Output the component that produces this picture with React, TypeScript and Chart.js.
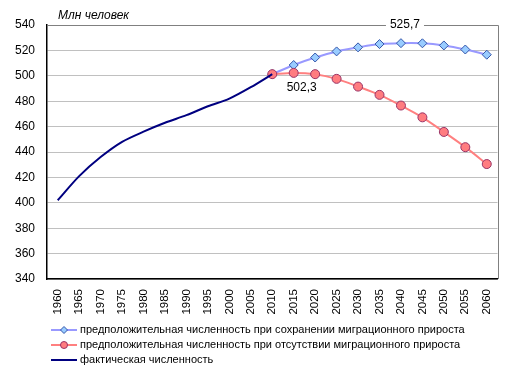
import React, { useEffect, useRef } from "react";
import { Chart, registerables } from "chart.js";

Chart.register(...registerables);

const years = ["1960","1965","1970","1975","1980","1985","1990","1995","2000","2005","2010","2015","2020","2025","2030","2035","2040","2045","2050","2055","2060"];
const actual = [402, 421, 436, 448, 456, 463, 469, 476, 482, 491, 501.3, null, null, null, null, null, null, null, null, null, null];
const withMigration = [null, null, null, null, null, null, null, null, null, null, 501.3, 508.5, 514.4, 519.2, 522.4, 525, 525.7, 525.6, 523.9, 520.7, 516.6];
const noMigration = [null, null, null, null, null, null, null, null, null, null, 501.3, 502.3, 501.3, 497.6, 491.5, 485, 476.6, 467.3, 455.8, 443.8, 430.5];
const legendLabels = [
  "предположительная численность при сохранении миграционного прироста",
  "предположительная численность при отсутствии миграционного прироста",
  "фактическая численность",
];
const yTitle = "Млн человек";

const FONT = "'Liberation Sans', Arial, sans-serif";

const BLUE_LINE = "#9999FF";
const BLUE_FILL = "#99CCFF";
const BLUE_BORDER = "#3355AA";
const RED_LINE = "#FF8080";
const RED_FILL = "#FF7C80";
const RED_BORDER = "#993366";
const NAVY = "#000080";

const extrasPlugin = {
  id: "extras",
  afterDraw(chart: any) {
    const ctx = chart.ctx;
    const { left, right, top, bottom } = chart.chartArea;
    const xs = chart.scales.x;
    const ys = chart.scales.y;
    ctx.save();
    // top & right border (gray)
    ctx.strokeStyle = "#808080";
    ctx.lineWidth = 1;
    ctx.beginPath();
    ctx.moveTo(left, Math.round(top) + 0.5);
    ctx.lineTo(Math.round(right) + 0.5, Math.round(top) + 0.5);
    ctx.lineTo(Math.round(right) + 0.5, bottom);
    ctx.stroke();

    // y title
    ctx.fillStyle = "#000";
    ctx.font = "italic 12px " + FONT;
    ctx.textAlign = "left";
    ctx.textBaseline = "middle";
    ctx.fillText(yTitle, 58, 16);

    // data labels
    ctx.font = "12px " + FONT;
    ctx.textAlign = "center";
    const iMin = noMigration.indexOf(502.3);
    const px1 = xs.getPixelForValue(iMin);
    const py1 = ys.getPixelForValue(noMigration[iMin] as number);
    ctx.fillText("502,3", px1 + 8, py1 + 15);

    const iMax = withMigration.indexOf(525.7);
    const px2 = xs.getPixelForValue(iMax);
    const py2 = ys.getPixelForValue(withMigration[iMax] as number);
    const txt = "525,7";
    const w = ctx.measureText(txt).width;
    ctx.fillStyle = "#fff";
    ctx.fillRect(px2 + 4 - w / 2 - 4, py2 - 18 - 7, w + 8, 14);
    ctx.fillStyle = "#000";
    ctx.fillText(txt, px2 + 4, py2 - 18);

    // legend
    const rows = [330, 345, 360];
    const styles = [
      { line: BLUE_LINE, fill: BLUE_FILL, border: BLUE_BORDER, marker: "diamond" },
      { line: RED_LINE, fill: RED_FILL, border: RED_BORDER, marker: "circle" },
      { line: NAVY, fill: null, border: null, marker: "none" },
    ];
    ctx.font = "11px " + FONT;
    ctx.textAlign = "left";
    ctx.textBaseline = "middle";
    rows.forEach((y, i) => {
      const s = styles[i];
      ctx.strokeStyle = s.line;
      ctx.lineWidth = 2;
      ctx.beginPath();
      ctx.moveTo(51, y);
      ctx.lineTo(77, y);
      ctx.stroke();
      if (s.marker === "diamond") {
        ctx.beginPath();
        ctx.moveTo(64, y - 3.5);
        ctx.lineTo(67.5, y);
        ctx.lineTo(64, y + 3.5);
        ctx.lineTo(60.5, y);
        ctx.closePath();
        ctx.fillStyle = s.fill as string;
        ctx.fill();
        ctx.lineWidth = 1;
        ctx.strokeStyle = s.border as string;
        ctx.stroke();
      } else if (s.marker === "circle") {
        ctx.beginPath();
        ctx.arc(64, y, 3.5, 0, Math.PI * 2);
        ctx.fillStyle = s.fill as string;
        ctx.fill();
        ctx.lineWidth = 1;
        ctx.strokeStyle = s.border as string;
        ctx.stroke();
      }
      ctx.fillStyle = "#000";
      ctx.fillText(legendLabels[i], 80, y);
    });
    ctx.restore();
  },
};

export default function App() {
  const ref = useRef<HTMLCanvasElement | null>(null);
  useEffect(() => {
    if (!ref.current) return;
    const chart = new Chart(ref.current, {
      type: "line",
      data: {
        labels: years,
        datasets: [
          {
            label: legendLabels[1],
            data: noMigration,
            borderColor: RED_LINE,
            backgroundColor: RED_FILL,
            pointBackgroundColor: RED_FILL,
            pointBorderColor: RED_BORDER,
            pointBorderWidth: 1,
            pointRadius: 4.5,
            pointStyle: "circle",
            borderWidth: 2,
            tension: 0.3,
            order: 1,
          },
          {
            label: legendLabels[0],
            data: withMigration,
            borderColor: BLUE_LINE,
            backgroundColor: BLUE_FILL,
            pointBackgroundColor: BLUE_FILL,
            pointBorderColor: BLUE_BORDER,
            pointBorderWidth: 1,
            pointRadius: 4.5,
            pointStyle: "rectRot",
            borderWidth: 2,
            tension: 0.3,
            order: 2,
          },
          {
            label: legendLabels[2],
            data: actual,
            borderColor: NAVY,
            backgroundColor: NAVY,
            pointRadius: 0,
            borderWidth: 2,
            tension: 0.3,
            order: 0,
          },
        ],
      },
      options: {
        responsive: false,
        animation: false,
        events: [],
        layout: { padding: { left: 0, top: 25, right: 15.5, bottom: 0 } },
        plugins: {
          legend: { display: false },
          tooltip: { enabled: false },
          title: { display: false },
        },
        scales: {
          x: {
            type: "category",
            offset: true,
            grid: { display: false, drawTicks: false },
            border: { display: true, color: "#000", width: 1.5 },
            ticks: {
              autoSkip: false,
              maxRotation: 90,
              minRotation: 90,
              padding: 10,
              color: "#000",
              font: { family: FONT, size: 11.5 },
            },
            afterFit: (s: any) => { s.height = 96; },
          },
          y: {
            min: 340,
            max: 540,
            grid: { color: "#C0C0C0", drawTicks: false },
            border: { display: true, color: "#000", width: 1.5 },
            ticks: {
              stepSize: 20,
              padding: 12,
              color: "#000",
              font: { family: FONT, size: 12 },
            },
            afterFit: (s: any) => { s.width = 47; },
          },
        },
      },
      plugins: [extrasPlugin],
    });
    return () => chart.destroy();
  }, []);
  return (
    <div style={{ position: "fixed", left: 0, top: 0, width: 513, height: 375, background: "#fff" }}>
      <canvas ref={ref} width={513} height={375} style={{ width: 513, height: 375, display: "block" }} />
    </div>
  );
}
